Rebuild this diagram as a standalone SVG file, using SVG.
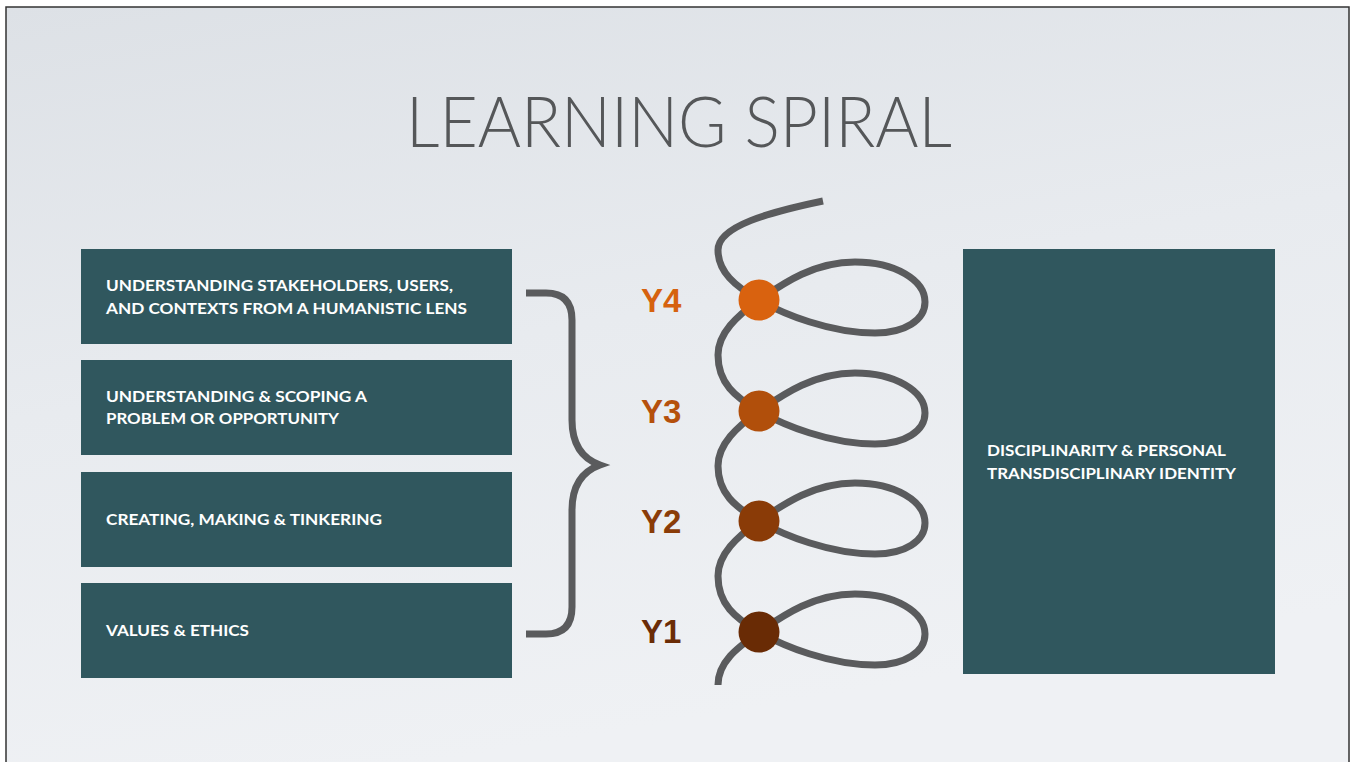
<svg xmlns="http://www.w3.org/2000/svg" width="1351" height="762" viewBox="0 0 1351 762">
<defs>
<linearGradient id="bg" x1="0" y1="0" x2="0.3" y2="1">
<stop offset="0" stop-color="#dde1e6"/>
<stop offset="0.5" stop-color="#e8ebef"/>
<stop offset="1" stop-color="#eff1f4"/>
</linearGradient>
<style>
.box{fill:#30575e}
.bt{font-family:"Lato","Liberation Sans",sans-serif;font-weight:700;font-size:16px;fill:#ffffff}
.yl{font-family:"Liberation Sans",Arial,sans-serif;font-weight:700;font-size:33px}
.line{fill:none;stroke:#5a5b5d;stroke-width:7;stroke-linecap:butt}
</style>
</defs>
<rect x="0" y="0" width="1351" height="762" fill="#ffffff"/>
<rect x="6" y="7" width="1343" height="760" fill="url(#bg)" stroke="#333333" stroke-width="1.5"/>
<text x="679" y="147" text-anchor="middle" font-family="Lato, 'Liberation Sans', sans-serif" font-weight="300" font-size="70" fill="#555759" textLength="546" lengthAdjust="spacingAndGlyphs">LEARNING SPIRAL</text>

<g id="box1"><rect class="box" x="81" y="249" width="431" height="95"/>
<text class="bt" x="106" y="291" textLength="347" lengthAdjust="spacingAndGlyphs">UNDERSTANDING STAKEHOLDERS, USERS,</text>
<text class="bt" x="106" y="314" textLength="361" lengthAdjust="spacingAndGlyphs">AND CONTEXTS FROM A HUMANISTIC LENS</text></g>
<g id="box2"><rect class="box" x="81" y="360" width="431" height="95"/>
<text class="bt" x="106" y="402" textLength="261" lengthAdjust="spacingAndGlyphs">UNDERSTANDING &amp; SCOPING A</text>
<text class="bt" x="106" y="424" textLength="233" lengthAdjust="spacingAndGlyphs">PROBLEM OR OPPORTUNITY</text></g>
<g id="box3"><rect class="box" x="81" y="472" width="431" height="95"/>
<text class="bt" x="106" y="525" textLength="276" lengthAdjust="spacingAndGlyphs">CREATING, MAKING &amp; TINKERING</text></g>
<g id="box4"><rect class="box" x="81" y="583" width="431" height="95"/>
<text class="bt" x="106" y="636" textLength="143" lengthAdjust="spacingAndGlyphs">VALUES &amp; ETHICS</text></g>
<g id="box5"><rect class="box" x="963" y="249" width="312" height="425"/>
<text class="bt" x="987" y="456" textLength="239" lengthAdjust="spacingAndGlyphs">DISCIPLINARITY &amp; PERSONAL</text>
<text class="bt" x="987" y="479" textLength="249" lengthAdjust="spacingAndGlyphs">TRANSDISCIPLINARY IDENTITY</text></g>

<g id="connectors">
<path class="line" stroke="#555555" d="M526,293 H546 Q572,293 572,320 V420 Q572,455 600,465 Q572,475 572,510 V607 Q572,634 546,634 H526"/>
<path class="line" d="M823,201 C770,212 718,226 718,250
C718,272 735,286 759,300 C783,314 830,333 875,333 C905,333 925,320 925,302 C925,280 895,262 855,262 C815,262 785,282 759,300 C737,316 718,333 718,355
C718,383 735,397 759,411 C783,425 830,444 875,444 C905,444 925,431 925,413 C925,391 895,373 855,373 C815,373 785,393 759,411 C737,427 718,444 718,466
C718,493 735,507 759,521 C783,535 830,554 875,554 C905,554 925,541 925,523 C925,501 895,483 855,483 C815,483 785,503 759,521 C737,537 718,554 718,576
C718,604 735,618 759,632 C783,646 830,665 875,665 C905,665 925,652 925,634 C925,612 895,594 855,594 C815,594 785,614 759,632 C737,648 718,662 718,685"/>
</g>

<g id="y4"><circle cx="759" cy="300" r="20.5" fill="#d9620f"/><text class="yl" x="641" y="312" fill="#d6620f">Y4</text></g>
<g id="y3"><circle cx="759" cy="411" r="20.5" fill="#b14f0b"/><text class="yl" x="641" y="423" fill="#b5500c">Y3</text></g>
<g id="y2"><circle cx="759" cy="521" r="20.5" fill="#8a3b07"/><text class="yl" x="641" y="533" fill="#8a3c08">Y2</text></g>
<g id="y1"><circle cx="759" cy="632" r="20.5" fill="#692b05"/><text class="yl" x="641" y="643" fill="#6b2c06">Y1</text></g>
</svg>
